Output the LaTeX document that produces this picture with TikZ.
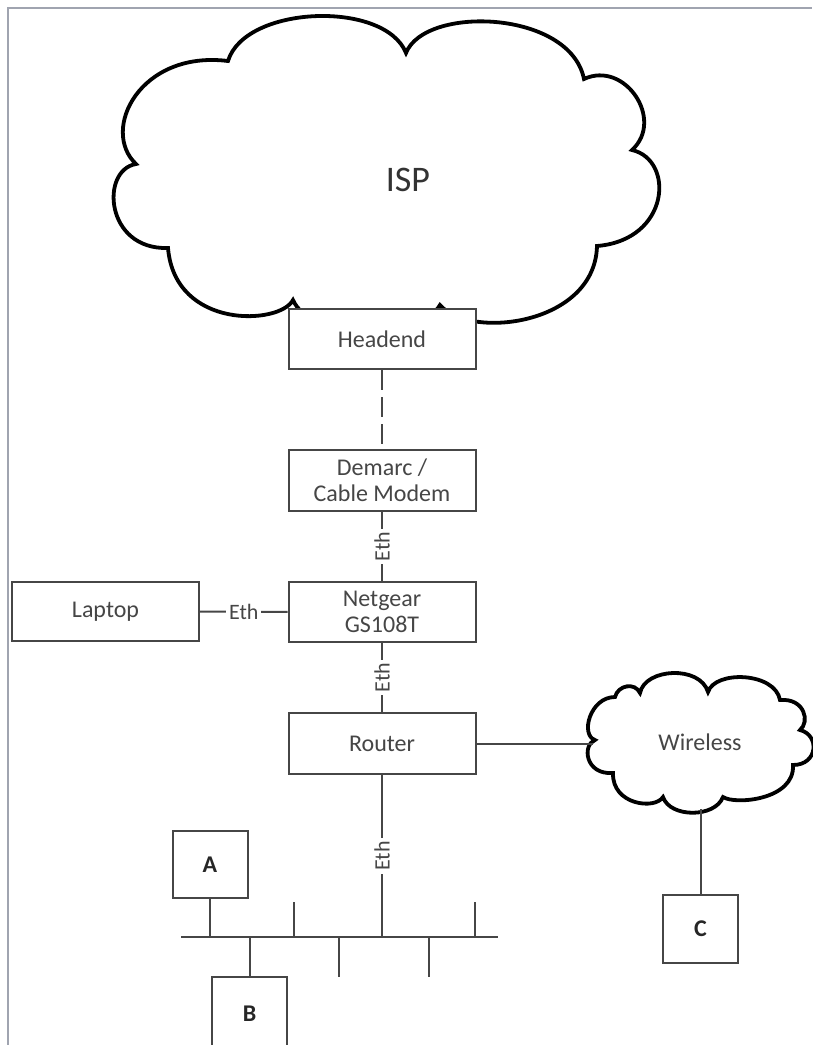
\documentclass[tikz,border=0pt]{standalone}
\usepackage{fontspec}
\setmainfont{Carlito}
\definecolor{framegray}{RGB}{160,164,176}
\definecolor{linegray}{RGB}{70,70,70}

\begin{document}
\begin{tikzpicture}[x=1pt,y=-1pt,
  box/.style={draw=linegray,line width=2pt,fill=white,text=linegray,align=center,
    minimum width=187pt,minimum height=60pt,inner sep=0pt,font=\fontsize{24}{26}\selectfont},
  host/.style={draw=linegray,line width=2pt,fill=white,text=black!85,minimum width=75pt,
    minimum height=67pt,inner sep=0pt,font=\fontsize{24}{26}\selectfont\bfseries},
  eth/.style={fill=white,text=linegray,inner sep=3pt,font=\fontsize{22}{24}\selectfont},
  wire/.style={draw=linegray,line width=2pt},
  puff/.style={draw=black,line width=3.8pt}]
\useasboundingbox (0,0) rectangle (812,1045);
\draw[framegray,line width=2pt] (8,1045) -- (8,7.5) -- (812,7.5);

\draw[puff,fill=white] (228,61) .. controls (245,5) and (385,0) .. (406,53)
  .. controls (425,5) and (570,10) .. (584,79)
  .. controls (625,60) and (665,120) .. (632,150)
  .. controls (675,160) and (670,240) .. (597,246)
  .. controls (595,325) and (470,340) .. (440,305)
  .. controls (420,340) and (310,340) .. (293,300)
  .. controls (280,325) and (175,330) .. (168,248)
  .. controls (105,250) and (100,170) .. (136,164)
  .. controls (100,130) and (140,50) .. cycle;
\node (isp) at (408,180) [text=black!80,font=\fontsize{36}{40}\selectfont] {ISP};

\draw[puff,fill=white] (595,740) .. controls (580,735) and (590,697) .. (615,697)
  .. controls (618,685) and (635,682) .. (640,693)
  .. controls (645,668) and (700,665) .. (708,692)
  .. controls (715,670) and (775,672) .. (780,700)
  .. controls (805,698) and (810,722) .. (800,730)
  .. controls (820,735) and (818,765) .. (793,765)
  .. controls (795,800) and (735,805) .. (723,797)
  .. controls (715,818) and (670,818) .. (663,797)
  .. controls (655,810) and (612,805) .. (613,773)
  .. controls (585,775) and (582,745) .. cycle;
\node (wireless) at (700,742) [text=linegray,font=\fontsize{24}{26}\selectfont] {Wireless};
\coordinate (wlw) at (593,743.5);
\coordinate (wls) at (700.5,809);

\node[box] (headend) at (382,339) {Headend};
\node[box,minimum height=61pt] (demarc) at (382,480.5) {Demarc /\\Cable Modem};
\node[box] (netgear) at (382,612) {Netgear\\GS108T};
\node[box,minimum height=61pt] (router) at (382,743.5) {Router};
\node[box,minimum height=59pt] (laptop) at (105.5,611.5) {Laptop};
\node[host] (a) at (210,864.5) {A};
\node[host,minimum height=74pt] (b) at (249.5,1014) {B};
\node[host,minimum height=68pt] (c) at (700.5,929) {C};

\draw[wire,dash pattern=on 20pt off 7pt] (headend) -- (demarc);
\draw[wire] (demarc) -- node[eth,rotate=90] {Eth} (netgear);
\draw[wire] (netgear) -- node[eth,rotate=90] {Eth} (router);
\draw[wire] (laptop) -- node[eth] {Eth} (netgear);
\draw[wire] (router.east) -- (router.east -| wlw);
\draw[wire] (wls) -- (c.north);

\coordinate (busl) at (181,937);
\coordinate (busr) at (498,937);
\coordinate (tap) at (382,937);
\draw[wire] (busl) -- (busr);
\draw[wire] (router.south) -- node[eth,rotate=90] {Eth} (tap);
\draw[wire] (a.south) -- (a.south |- busl);
\draw[wire] (b.north) -- (b.north |- busl);
\draw[wire] (294,902) -- (294,937);
\draw[wire] (339,937) -- (339,977);
\draw[wire] (429,937) -- (429,977);
\draw[wire] (475,902) -- (475,937);
\end{tikzpicture}
\end{document}
